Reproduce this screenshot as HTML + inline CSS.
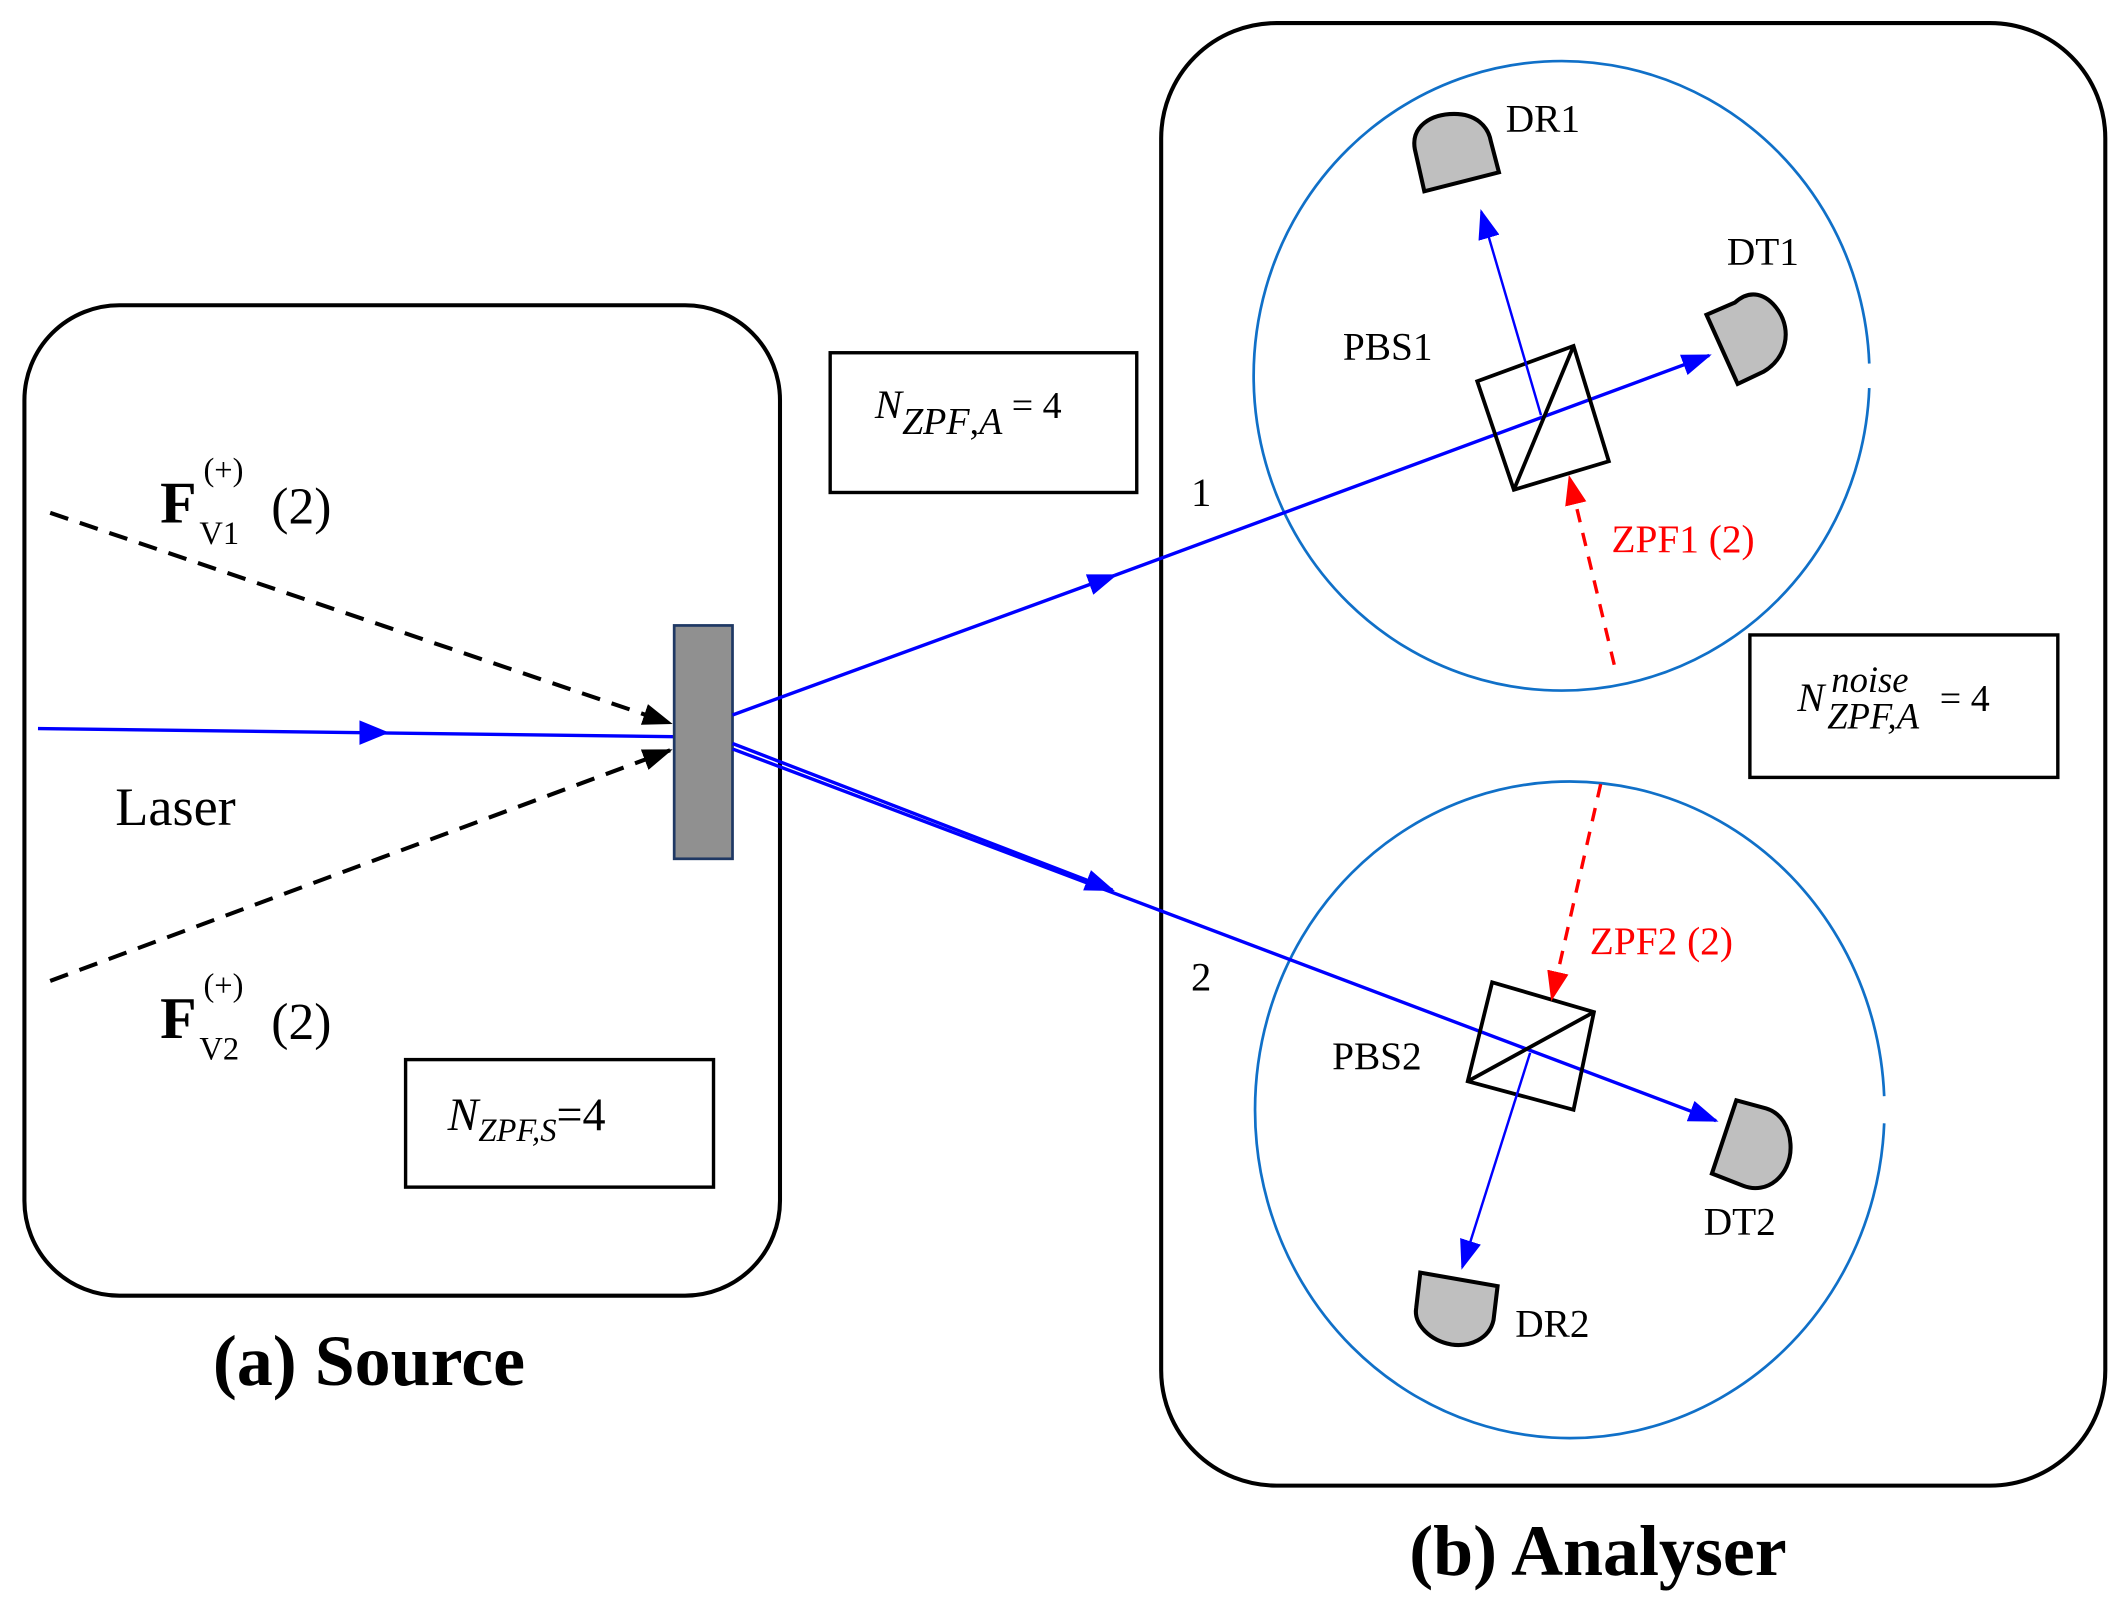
<!DOCTYPE html>
<html><head><meta charset="utf-8"><style>html,body{margin:0;padding:0;background:#fff}svg{display:block}</style></head><body>
<svg width="2127" height="1605" viewBox="0 0 1568 1183" preserveAspectRatio="none" xmlns="http://www.w3.org/2000/svg" font-family="Liberation Serif, serif">
<defs>
<marker id="abig" markerWidth="22" markerHeight="16" refX="20" refY="8" orient="auto" markerUnits="userSpaceOnUse"><path d="M0,0 L22,8 L0,16z" fill="#0000ff"/></marker>
<marker id="ak" markerWidth="22" markerHeight="16" refX="20" refY="8" orient="auto" markerUnits="userSpaceOnUse"><path d="M0,0 L22,8 L0,16z" fill="#000"/></marker>
<marker id="ar" markerWidth="22" markerHeight="16" refX="20" refY="8" orient="auto" markerUnits="userSpaceOnUse"><path d="M0,0 L22,8 L0,16z" fill="#ff0000"/></marker>
</defs>
<rect x="18" y="225" width="557" height="730" rx="70" fill="none" stroke="#000" stroke-width="3"/>
<rect x="856" y="17" width="696" height="1078" rx="85" fill="none" stroke="#000" stroke-width="3"/>
<text x="272" y="1021" font-size="53" font-weight="bold" text-anchor="middle">(a) Source</text>
<text x="1178" y="1161" font-size="53" font-weight="bold" text-anchor="middle">(b) Analyser</text>
<path d="M1378,286 A227,232 0 1,1 1378,268" fill="none" stroke="#1070c8" stroke-width="2"/>
<path d="M1389,828 A232,242 0 1,1 1389,808" fill="none" stroke="#1070c8" stroke-width="2"/>
<line x1="28" y1="537" x2="497" y2="543" stroke="#0000ff" stroke-width="2.5"/>
<path d="M265,531 L287,540 L265,549z" fill="#0000ff"/>
<text x="85" y="608" font-size="40">Laser</text>
<line x1="37" y1="378" x2="494" y2="533" stroke="#000" stroke-width="3" stroke-dasharray="14,9" marker-end="url(#ak)"/>
<line x1="37" y1="723" x2="494" y2="553" stroke="#000" stroke-width="3" stroke-dasharray="14,9" marker-end="url(#ak)"/>
<text x="118" y="385" font-size="44" font-weight="bold">F</text>
<text x="150" y="354" font-size="24">(+)</text>
<text x="147" y="401" font-size="24">V1</text>
<text x="200" y="386" font-size="38">(2)</text>
<text x="118" y="765" font-size="44" font-weight="bold">F</text>
<text x="150" y="734" font-size="24">(+)</text>
<text x="147" y="781" font-size="24">V2</text>
<text x="200" y="766" font-size="38">(2)</text>
<rect x="497" y="461" width="43" height="172" fill="#909090" stroke="#1f3864" stroke-width="2"/>
<rect x="299" y="781" width="227" height="94" fill="none" stroke="#000" stroke-width="2.5"/>
<text x="330" y="833" font-size="34" font-style="italic">N<tspan font-size="24" dy="8">ZPF,S</tspan><tspan font-style="normal" font-size="34" dy="-8">=4</tspan></text>
<rect x="612" y="260" width="226" height="103" fill="none" stroke="#000" stroke-width="2.5"/>
<text x="645" y="308" font-size="30" font-style="italic">N<tspan font-size="28" dy="12">ZPF</tspan><tspan font-style="normal" font-size="28">,</tspan><tspan font-size="28">A</tspan><tspan font-style="normal" font-size="28" dy="-12"> = 4</tspan></text>
<rect x="1290" y="468" width="227" height="105" fill="none" stroke="#000" stroke-width="2.5"/>
<text x="1325" y="524" font-size="30" font-style="italic">N</text>
<text x="1350" y="510" font-size="27" font-style="italic">noise</text>
<text x="1347" y="537" font-size="27" font-style="italic">ZPF,A</text>
<text x="1430" y="524" font-size="28">= 4</text>
<line x1="540" y1="527" x2="822" y2="424" stroke="#0000ff" stroke-width="2.5" marker-end="url(#abig)"/>
<line x1="822" y1="424" x2="1260" y2="262" stroke="#0000ff" stroke-width="2.5" marker-end="url(#abig)"/>
<line x1="540" y1="548" x2="820" y2="656" stroke="#0000ff" stroke-width="2.5" marker-end="url(#abig)"/>
<line x1="540" y1="552" x2="1265" y2="826" stroke="#0000ff" stroke-width="2.5" marker-end="url(#abig)"/>
<text x="878" y="373" font-size="30">1</text>
<text x="878" y="730" font-size="30">2</text>
<polygon points="1089,281 1160,255 1186,340 1116,361" fill="none" stroke="#000" stroke-width="2.8"/>
<line x1="1160" y1="255" x2="1116" y2="361" stroke="#000" stroke-width="2.8"/>
<line x1="1136" y1="306" x2="1092" y2="156" stroke="#0000ff" stroke-width="1.8" marker-end="url(#abig)"/>
<line x1="1190" y1="490" x2="1157" y2="352" stroke="#ff0000" stroke-width="2.5" stroke-dasharray="10,8" marker-end="url(#ar)"/>
<polygon points="1100,724 1175,746 1160,818 1082,797" fill="none" stroke="#000" stroke-width="2.8"/>
<line x1="1082" y1="797" x2="1175" y2="746" stroke="#000" stroke-width="2.8"/>
<line x1="1128" y1="776" x2="1078" y2="934" stroke="#0000ff" stroke-width="1.8" marker-end="url(#abig)"/>
<line x1="1180" y1="578" x2="1144" y2="736" stroke="#ff0000" stroke-width="2.5" stroke-dasharray="10,8" marker-end="url(#ar)"/>
<path d="M1050,141 L1043,110 C1040,93 1055,84 1072,84 C1088,84 1097,93 1099,104 L1105,127 Z" fill="#bfbfbf" stroke="#000" stroke-width="3"/>
<path d="M1258,232 L1281,283 L1300,274 C1317,264 1321,244 1311,229 C1302,216 1290,213 1279,223 Z" fill="#bfbfbf" stroke="#000" stroke-width="3"/>
<path d="M1280,811 L1262,865 L1285,874 C1303,881 1320,866 1320,846 C1320,830 1312,820 1302,817 Z" fill="#bfbfbf" stroke="#000" stroke-width="3"/>
<path d="M1047,938 L1104,948 L1101,973 C1098,987 1083,993 1070,991 C1054,988 1042,976 1044,964 Z" fill="#bfbfbf" stroke="#000" stroke-width="3"/>
<g font-size="29">
<text x="1110" y="97">DR1</text>
<text x="1273" y="195">DT1</text>
<text x="990" y="265">PBS1</text>
<text x="1188" y="407" fill="#ff0000">ZPF1 (2)</text>
<text x="982" y="788">PBS2</text>
<text x="1172" y="703" fill="#ff0000">ZPF2 (2)</text>
<text x="1256" y="910">DT2</text>
<text x="1117" y="985">DR2</text>
</g>
</svg>
</body></html>
